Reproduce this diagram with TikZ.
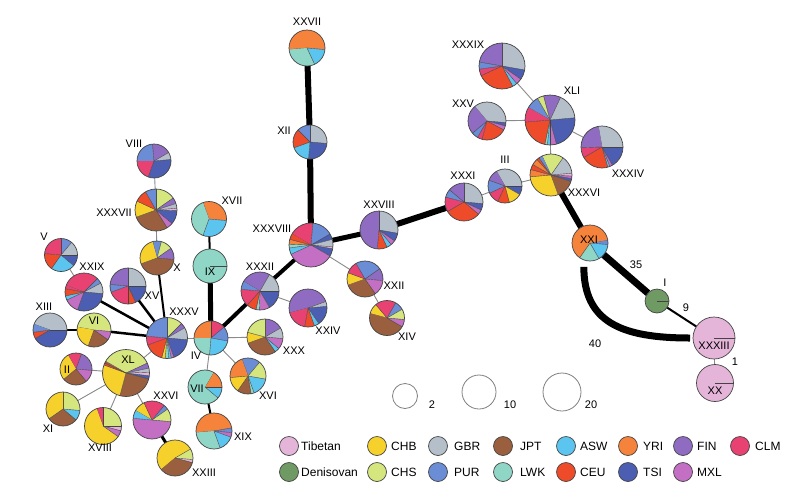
\documentclass[tikz,border=0pt]{standalone}
\usepackage{fontspec}
\setmainfont{Liberation Sans}
\definecolor{Tib}{HTML}{E5B5D9}
\definecolor{Den}{HTML}{6F9A63}
\definecolor{CHB}{HTML}{F7D12B}
\definecolor{CHS}{HTML}{D5E67E}
\definecolor{GBR}{HTML}{B5BFC9}
\definecolor{PUR}{HTML}{6A8DD6}
\definecolor{JPT}{HTML}{9A5F3E}
\definecolor{LWK}{HTML}{8FD6C6}
\definecolor{ASW}{HTML}{5CC5EF}
\definecolor{CEU}{HTML}{EE4B2B}
\definecolor{YRI}{HTML}{F5833B}
\definecolor{TSI}{HTML}{4B5EB2}
\definecolor{FIN}{HTML}{8F6CC1}
\definecolor{MXL}{HTML}{C26FC4}
\definecolor{CLM}{HTML}{E84273}
\definecolor{rimcol}{HTML}{444444}
\definecolor{edgegray}{HTML}{8A8A8A}
\newcommand\hapn[4]{\node[hap,minimum size={2*#4pt}] (#1) at (#2,#3) {};}
\newcommand\pie[4]{%
  \foreach \e/\c [remember=\e as \s (initially #3)] in {#4}{%
    \fill[\c] (#1.center) -- ++(\s-90:#2) arc[start angle=\s-90, end angle=\e-90, radius=#2] -- cycle;
    \draw[sep] (#1.center) -- ++(\s-90:#2);
  }%
  \draw[rim] (#1.center) circle[radius=#2];
}
\begin{document}
\begin{tikzpicture}[x=1pt,y=-1pt,
  hap/.style={circle,inner sep=0pt,outer sep=0pt},
  lab/.style={font=\fontsize{11}{12}\selectfont,inner sep=0pt},
  leg/.style={font=\fontsize{12}{13}\selectfont,inner sep=0pt,anchor=west},
  lnk/.style={draw=edgegray,line width=0.9pt},
  blk/.style={draw=black,line width=#1},
  sep/.style={draw=rimcol,line width=0.4pt},
  rim/.style={draw=rimcol,line width=0.7pt},
  legdot/.style={circle,inner sep=0pt,minimum size=19pt,draw=rimcol,line width=0.7pt},
  sizec/.style={circle,inner sep=0pt,draw=gray,line width=0.8pt}]
\useasboundingbox (0,0) rectangle (800,493);
\fill[white] (0,0) rectangle (800,493);
% nodes
\hapn{XXVII}{307}{48}{18}
\hapn{XII}{310}{142}{17}
\hapn{XXXVIII}{311}{245}{22}
\hapn{XXVIII}{379}{230}{19}
\hapn{XXXI}{464}{202}{19}
\hapn{III}{505}{186}{17}
\hapn{XXXVI}{551}{175}{21}
\hapn{XLI}{550}{120}{25}
\hapn{XXXIX}{502}{66}{23}
\hapn{XXV}{487}{121}{19}
\hapn{XXXIV}{602}{147}{21}
\hapn{XXI}{590}{243}{18}
\hapn{I}{657}{301}{12}
\hapn{XXXIII}{714}{338}{21}
\hapn{XX}{715}{383}{18.5}
\hapn{VIII}{154}{161}{17}
\hapn{XXXVII}{156}{210}{21}
\hapn{X}{157}{258}{17}
\hapn{V}{61}{255}{16.5}
\hapn{XXIX}{84}{292}{19}
\hapn{XV}{128}{286}{18}
\hapn{XIII}{50}{330}{17}
\hapn{VI}{94}{330}{17}
\hapn{XXXV}{167}{338}{20.5}
\hapn{XVII}{209}{219}{17.5}
\hapn{IX}{210}{266}{17}
\hapn{IV}{211}{338}{17}
\hapn{XXXII}{260}{291}{19}
\hapn{XXIV}{308}{308}{19}
\hapn{XXII}{365}{279}{18}
\hapn{XIV}{387}{318}{17.5}
\hapn{XXX}{265}{337}{18}
\hapn{XVI}{248}{376}{18}
\hapn{VII}{205}{387}{17}
\hapn{XIX}{214}{431}{18}
\hapn{XXVI}{152}{420}{19}
\hapn{XXIII}{175}{458}{18}
\hapn{XL}{126}{373}{23.5}
\hapn{II}{76}{369}{16}
\hapn{XI}{63}{409}{17}
\hapn{XVIII}{103}{426}{18.5}
% edges
\draw[blk=6pt] (XXVII) -- (XII);
\draw[blk=6pt] (XII) -- (XXXVIII);
\draw[blk=5pt] (XXXVIII) -- (XXVIII);
\draw[blk=6pt] (XXVIII) -- (XXXI);
\draw[lnk] (XXXI) -- (III);
\draw[lnk] (III) -- (XXXVI);
\draw[lnk] (XXXVI) -- (XLI);
\draw[lnk] (XLI) -- (XXXIX);
\draw[lnk] (XLI) -- (XXV);
\draw[lnk] (XLI) -- (XXXIV);
\draw[blk=6pt] (XXXVI) -- (XXI);
\draw[blk=7pt] (XXI) -- (I);
\draw[blk=2pt] (I) -- (XXXIII);
\draw[lnk] (XXXIII) -- (XX);
\draw[blk=7pt,shorten <=7pt,shorten >=3pt] (XXI.250) .. controls +(0,62) and +(-72,0) .. (XXXIII.west);
\draw[lnk] (XXXVIII) -- (XXII);
\draw[lnk] (XXII) -- (XIV);
\draw[blk=4pt] (XXXVIII) -- (XXXII);
\draw[blk=4pt] (XXXII) -- (IV);
\draw[lnk] (XXXII) -- (XXIV);
\draw[blk=5pt] (IV) -- (IX);
\draw[blk=2pt] (IX) -- (XVII);
\draw[lnk] (IV) -- (XXX);
\draw[lnk] (IV) -- (XVI);
\draw[lnk] (IV) -- (VII);
\draw[blk=2pt] (VII) -- (XIX);
\draw[lnk] (IV) -- (XXXV);
\draw[blk=2pt] (XXXV) -- (X);
\draw[lnk] (X) -- (XXXVII);
\draw[lnk] (XXXVII) -- (VIII);
\draw[blk=2.5pt] (XXXV) -- (XV);
\draw[blk=2.5pt] (XXXV) -- (XXIX);
\draw[lnk] (XXIX) -- (V);
\draw[blk=2.5pt] (XXXV) -- (VI);
\draw[blk=2pt] (VI) -- (XIII);
\draw[lnk] (XXXV) -- (XL);
\draw[lnk] (XL) -- (II);
\draw[lnk] (XL) -- (XI);
\draw[lnk] (XL) -- (XVIII);
\draw[lnk] (XL) -- (XXVI);
\draw[blk=3pt] (XXVI) -- (XXIII);
% pies
\pie{XXVII}{18}{-95}{95/YRI,155/ASW,265/LWK}
\pie{XII}{17}{0}{95/GBR,185/TSI,250/ASW,315/CEU,360/PUR}
\pie{XXXVIII}{22}{-60}{5/CLM,60/PUR,75/TSI,95/GBR,100/Tib,120/TSI,245/MXL,262/ASW,272/LWK,285/YRI,300/CEU}
\pie{XXVIII}{19}{0}{100/GBR,125/TSI,140/MXL,155/ASW,185/CEU,360/FIN}
\pie{XXXI}{19}{0}{95/GBR,115/TSI,130/MXL,240/CEU,285/CLM,310/PUR,360/FIN}
\pie{III}{17}{-30}{90/GBR,120/TSI,165/CHB,205/CEU,245/CLM,290/PUR,330/FIN}
\pie{XXXVI}{21}{-25}{35/CHS,85/GBR,93/Tib,100/MXL,108/TSI,160/JPT,265/CHB,285/YRI,300/CEU,318/YRI,325/CEU,335/PUR}
\pie{XLI}{25}{-60}{-30/PUR,-15/CHS,25/FIN,85/GBR,165/TSI,180/MXL,186/ASW,192/LWK,265/CEU,300/CLM}
\pie{XXXIX}{23}{0}{100/GBR,125/TSI,140/MXL,152/ASW,245/CEU,262/CLM,280/PUR,360/FIN}
\pie{XXV}{19}{-40}{95/GBR,105/TSI,118/MXL,195/CEU,210/CLM,230/PUR,320/FIN}
\pie{XXXIV}{21}{-10}{90/GBR,150/TSI,158/MXL,164/ASW,240/CEU,268/CLM,350/FIN}
\pie{XXI}{18}{80}{95/PUR,150/ASW,215/LWK,440/YRI}
\pie{I}{12}{90}{450/Den}
\pie{XXXIII}{21}{90}{450/Tib}
\pie{XX}{18.5}{90}{450/Tib}
\pie{IX}{17}{90}{450/LWK}
\pie{VIII}{17}{-90}{-5/PUR,60/FIN,85/GBR,200/TSI,270/CLM}
\pie{XXXVII}{21}{0}{55/CHS,72/FIN,85/GBR,92/Tib,130/TSI,148/MXL,250/JPT,295/CHB,330/CEU,360/PUR}
\pie{X}{17}{-15}{15/PUR,55/CHS,95/FIN,250/JPT,345/CHB}
\pie{V}{16.5}{0}{40/PUR,90/GBR,130/TSI,215/ASW,275/CEU,360/CLM}
\pie{XXIX}{19}{-70}{45/CLM,62/PUR,95/GBR,200/TSI,245/MXL,258/ASW,280/CEU,290/CLM}
\pie{XV}{18}{0}{90/GBR,155/TSI,180/CEU,250/CLM,275/PUR,360/FIN}
\pie{XIII}{17}{-70}{90/GBR,240/TSI,262/CEU,290/PUR}
\pie{VI}{17}{-80}{95/CHS,125/MXL,200/JPT,280/CHB}
\pie{XXXV}{20.5}{0}{45/CHS,60/FIN,95/GBR,160/TSI,168/MXL,175/ASW,185/LWK,195/CHB,250/CEU,275/CLM,360/PUR}
\pie{XVII}{17.5}{-20}{95/YRI,200/ASW,340/LWK}
\pie{IV}{17}{-90}{0/YRI,50/CLM,100/PUR,185/ASW,270/LWK}
\pie{XXXII}{19}{-60}{30/FIN,90/GBR,150/TSI,182/MXL,192/LWK,222/CEU,275/CLM,300/PUR}
\pie{XXIV}{19}{-105}{70/FIN,85/GBR,145/TSI,160/ASW,190/CEU,255/CLM}
\pie{XXII}{18}{-110}{-70/CHB,-30/CLM,55/PUR,95/FIN,145/MXL,250/JPT}
\pie{XIV}{17.5}{-75}{-40/CHB,30/CLM,60/PUR,95/CHS,120/MXL,285/JPT}
\pie{XXX}{18}{0}{60/FIN,95/GBR,130/MXL,145/ASW,250/JPT,285/CHB,360/CHS}
\pie{XVI}{18}{-20}{40/PUR,100/CHS,160/ASW,170/LWK,215/JPT,265/CHB,340/YRI}
\pie{VII}{17}{30}{90/YRI,130/ASW,390/LWK}
\pie{XIX}{18}{-95}{80/YRI,95/PUR,110/MXL,160/ASW,265/LWK}
\pie{XXVI}{19}{-60}{-25/CHB,40/CLM,55/PUR,95/CHS,275/MXL,300/ASW}
\pie{XXIII}{18}{-130}{60/CHB,95/CHS,105/Tib,230/JPT}
\pie{XL}{23.5}{-60}{65/CHS,78/FIN,88/GBR,97/Tib,105/TSI,195/JPT,290/CHB,295/CEU,300/JPT}
\pie{II}{16}{-30}{20/CLM,95/FIN,140/MXL,230/JPT,330/CHB}
\pie{XI}{17}{0}{95/CHS,130/ASW,235/JPT,360/CHB}
\pie{XVIII}{18.5}{-20}{0/CLM,90/CHS,105/Tib,125/MXL,340/CHB}
% labels
\node[lab] (lXXVII) at (307,22) {XXVII};
\node[lab] (lXII) at (284,131) {XII};
\node[lab] (lXXXVIII) at (272,229) {XXXVIII};
\node[lab] (lXXVIII) at (379,205) {XXVIII};
\node[lab] (lXXXI) at (463,176) {XXXI};
\node[lab] (lIII) at (505,160) {III};
\node[lab] (lXXXVI) at (584,193) {XXXVI};
\node[lab] (lXLI) at (572,91) {XLI};
\node[lab] (lXXXIX) at (468,45) {XXXIX};
\node[lab] (lXXV) at (463,104) {XXV};
\node[lab] (lXXXIV) at (628,174) {XXXIV};
\node[lab] (lXXI) at (589,240) {XXI};
\node[lab] (lI) at (665,283) {I};
\node[lab] (lXXXIII) at (714,346) {XXXIII};
\node[lab] (lXX) at (715,391) {XX};
\node[lab] (lVIII) at (134,144) {VIII};
\node[lab] (lXXXVII) at (114,213) {XXXVII};
\node[lab] (lX) at (177,268) {X};
\node[lab] (lV) at (44,237) {V};
\node[lab] (lXXIX) at (92,267) {XXIX};
\node[lab] (lXV) at (152,296) {XV};
\node[lab] (lXIII) at (44,307) {XIII};
\node[lab] (lVI) at (94,321) {VI};
\node[lab] (lXXXV) at (184,312) {XXXV};
\node[lab] (lXVII) at (232,201) {XVII};
\node[lab] (lIX) at (210,272) {IX};
\node[lab] (lIV) at (196,356) {IV};
\node[lab] (lXXXII) at (260,267) {XXXII};
\node[lab] (lXXIV) at (328,331) {XXIV};
\node[lab] (lXXII) at (394,286) {XXII};
\node[lab] (lXIV) at (407,337) {XIV};
\node[lab] (lXXX) at (294,351) {XXX};
\node[lab] (lXVI) at (268,396) {XVI};
\node[lab] (lVII) at (197,389) {VII};
\node[lab] (lXIX) at (243,437) {XIX};
\node[lab] (lXXVI) at (166,396) {XXVI};
\node[lab] (lXXIII) at (204,473) {XXIII};
\node[lab] (lXL) at (128,360) {XL};
\node[lab] (lII) at (67,370) {II};
\node[lab] (lXI) at (48,429) {XI};
\node[lab] (lXVIII) at (100,448) {XVIII};
% edge numbers
\node[lab] (n35) at (636,265) {35};
\node[lab] (n9) at (686,308) {9};
\node[lab] (n40) at (595,344) {40};
\node[lab] (n1) at (735,362) {1};
% size legend
\node[sizec,minimum size=25pt] (s2) at (405,396) {};
\node[sizec,minimum size=34pt] (s10) at (479,392) {};
\node[sizec,minimum size=38pt] (s20) at (562,392) {};
\node[lab] (t2) at (432,405) {2};
\node[lab] (t10) at (510,405) {10};
\node[lab] (t20) at (591,405) {20};
% colour legend
\node[legdot,fill=Tib] (gTib) at (289,446) {}; \node[leg] (xTib) at (301,446) {Tibetan};
\node[legdot,fill=Den] (gDen) at (289,472) {}; \node[leg] (xDen) at (301,472) {Denisovan};
\node[legdot,fill=CHB] (gCHB) at (377,446) {}; \node[leg] (xCHB) at (391,446) {CHB};
\node[legdot,fill=CHS] (gCHS) at (377,472) {}; \node[leg] (xCHS) at (391,472) {CHS};
\node[legdot,fill=GBR] (gGBR) at (438,446) {}; \node[leg] (xGBR) at (454,446) {GBR};
\node[legdot,fill=PUR] (gPUR) at (438,472) {}; \node[leg] (xPUR) at (454,472) {PUR};
\node[legdot,fill=JPT] (gJPT) at (503,446) {}; \node[leg] (xJPT) at (520,446) {JPT};
\node[legdot,fill=LWK] (gLWK) at (503,472) {}; \node[leg] (xLWK) at (520,472) {LWK};
\node[legdot,fill=ASW] (gASW) at (566,446) {}; \node[leg] (xASW) at (580,446) {ASW};
\node[legdot,fill=CEU] (gCEU) at (566,472) {}; \node[leg] (xCEU) at (580,472) {CEU};
\node[legdot,fill=YRI] (gYRI) at (628,446) {}; \node[leg] (xYRI) at (643,446) {YRI};
\node[legdot,fill=TSI] (gTSI) at (628,472) {}; \node[leg] (xTSI) at (643,472) {TSI};
\node[legdot,fill=FIN] (gFIN) at (683,446) {}; \node[leg] (xFIN) at (697,446) {FIN};
\node[legdot,fill=MXL] (gMXL) at (683,472) {}; \node[leg] (xMXL) at (697,472) {MXL};
\node[legdot,fill=CLM] (gCLM) at (740,446) {}; \node[leg] (xCLM) at (755,446) {CLM};
\end{tikzpicture}
\end{document}
